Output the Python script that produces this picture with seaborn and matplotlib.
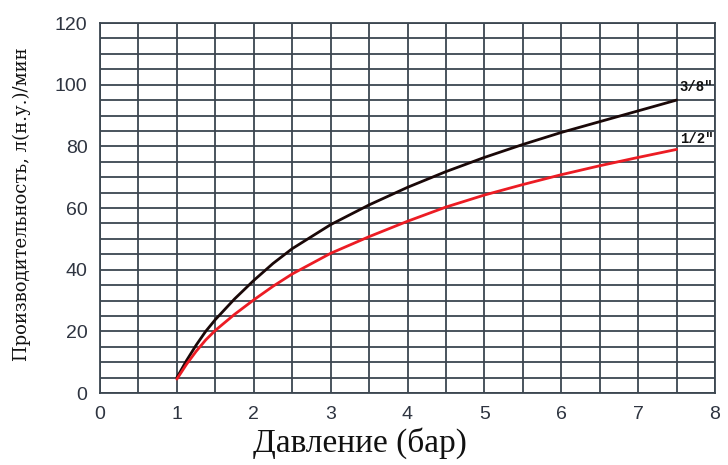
import matplotlib
matplotlib.use("Agg")
import matplotlib.pyplot as plt
import seaborn as sns
import pandas as pd
from matplotlib.ticker import MultipleLocator

pressure = [1, 1.125, 1.25, 1.375, 1.5, 1.75, 2, 2.25, 2.5, 3, 3.5, 4, 4.5, 5, 5.5, 6, 6.5, 7, 7.5]
flow_3_8 = [5, 10.5, 15.5, 20, 23.8, 30.5, 36.5, 42, 46.8, 54.6, 61, 66.7, 71.8, 76.4, 80.6, 84.5, 88, 91.5, 95]
flow_1_2 = [4.5, 9.3, 13.5, 17.2, 20.3, 25.5, 30.2, 34.6, 38.6, 45.3, 50.7, 55.7, 60.3, 64.2, 67.6, 70.8, 73.7, 76.4, 79]
series_names = ['3/8"', '1/2"']
series_colors = ['#1a0808', '#ec1c24']

x_ticks = [0, 1, 2, 3, 4, 5, 6, 7, 8]
y_ticks = [0, 20, 40, 60, 80, 100, 120]

df = pd.DataFrame({
    "p": pressure * 2,
    "q": flow_3_8 + flow_1_2,
    "s": [series_names[0]] * len(pressure) + [series_names[1]] * len(pressure),
})

sns.set_style("white")
fig = plt.figure(figsize=(7.28, 4.65), dpi=100)
ax = fig.add_axes([100 / 728, 1 - 393 / 465, 615 / 728, 370 / 465])

sns.lineplot(data=df, x="p", y="q", hue="s", palette=dict(zip(series_names, series_colors)),
             linewidth=2.0, legend=False, ax=ax, zorder=5)
for ln in ax.lines:
    ln.set_solid_joinstyle('round')
    ln.set_solid_capstyle('round')

ax.set_xlim(0, 8)
ax.set_ylim(0, 120)
ax.set_xticks(x_ticks)
ax.set_yticks(y_ticks)
ax.xaxis.set_minor_locator(MultipleLocator(0.5))
ax.yaxis.set_minor_locator(MultipleLocator(5))
grid_col = '#3c4650'
ax.grid(True, which='both', color=grid_col, linewidth=1.3)
ax.set_axisbelow(True)
for sp in ax.spines.values():
    sp.set_visible(True)
    sp.set_color(grid_col)
    sp.set_linewidth(1.3)
ax.tick_params(axis='both', which='major', length=4, width=1.0, color=grid_col,
               labelsize=14, labelcolor='#2e3440', pad=5)
ax.tick_params(axis='both', which='minor', length=0)
for lab in ax.get_xticklabels() + ax.get_yticklabels():
    lab.set_family(['Liberation Sans', 'DejaVu Sans'])

ax.set_xlabel("Давление (бар)", family=['Liberation Serif', 'DejaVu Serif'], fontsize=24,
              color='#111111', labelpad=0)
ax.xaxis.set_label_coords(0.423, -0.135)
ax.xaxis.label.set_va('center')
ax.set_ylabel("Производительность, л(н.у.)/мин", family=['DejaVu Serif'],
              fontsize=13, color='#111111')
ax.yaxis.set_label_coords(-78 / 615, 0.51)
ax.yaxis.label.set_va('center')

ax.text(7.54, 99.3, series_names[0], family=['Liberation Mono', 'DejaVu Sans Mono'],
        fontweight='bold', fontsize=10, color='#111111', ha='left', va='center', zorder=6)
ax.text(7.54, 82.5, series_names[1], family=['Liberation Mono', 'DejaVu Sans Mono'],
        fontweight='bold', fontsize=10, color='#111111', ha='left', va='center', zorder=6)

fig.savefig("out.png", dpi=100, facecolor='white')
